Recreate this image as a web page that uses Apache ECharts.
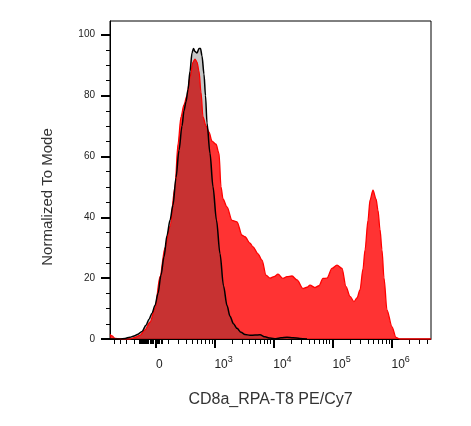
<!DOCTYPE html>
<html><head><meta charset="utf-8">
<script src="https://cdn.jsdelivr.net/npm/echarts@6/dist/echarts.min.js"></script>
<style>html,body{margin:0;padding:0;background:#fff}#c{width:471px;height:426px}</style>
</head><body><div id="c"></div>
<script>
// Histogram bins: position on the biexponential display scale (0 = zero fluorescence)
const redChannel = [-46,-44,-41,-36,-26,-21,-16,-11,-6,-1,4,9,14,19,22,25,28,31,34,37,39,41,43,45,47,50,53,56,60,63,65,67,71,76,81,86,89,94,97,102,106,110,114,118,122,127,131,136,141,147,151,154,159,163,167,171,176,181,186,190,194,198,201,204,207,209,212,214,217,220,222,224,226,228,231,236,240,244,275];
const redPct = [1.5,1,0.2,0,0,0.5,1.2,3,5.5,10,20.5,30,37,50,64,73,77,80,86,91,92,91,88,81,73,70,68,65,64,61,50,46,43.4,39,38.5,34.1,33.6,31.5,30.3,28,25.9,21,20,20.5,21.3,19.9,20.5,20.7,19.4,16.6,17,17.7,16.9,17.5,19.9,20,23.2,24.3,23.2,17.2,14,12.3,13.5,16.1,23,29.2,39,45.6,48.9,46,42.3,36,29.2,20,9.5,4,0.5,0,0];
const ctrlChannel = [-46,-36,-31,-26,-22,-18,-14,-10,-7,-4,-1,2,5,8,11,14,17,20,23,26,28,30,32,34,36,37.5,39,41,43,44.5,46,48,49.5,51,54,57,60.5,64,67.5,71,74,77.5,81,85,89,94,99,104,109,114,120,125,131,137,144,151];
const ctrlPct = [0,0,0.2,0.6,1,1.6,2.5,4.5,6.5,8.5,11,15,21,27,34,39,44,53,62,70,75,78,82,88,94,95.5,94.5,94,95.5,95.5,93,87,80,71,61,50,39,28,17.5,11,7.5,5,3.5,2.2,1.5,1.2,1.3,1.4,0.7,0.3,0.1,0.4,0.6,0.4,0.2,0];

// Axis ticks (fluorescence values)
const majorTickValues = [0, 1e3, 1e4, 1e5, 1e6];
const majorTickBase = ['0', '10', '10', '10', '10'];
const majorTickExp = ['', '3', '4', '5', '6'];
const minorTickValues = [-500,-400,-300,-200,-150,-140,-130,-120,-110,-100,-90,-80,-70,-60,-50,-40,-30,-20,-10,10,20,30,40,50,
  100,200,300,400,500,600,700,800,900,
  2000,3000,4000,5000,6000,7000,8000,9000,
  20000,30000,40000,50000,60000,70000,80000,90000,
  200000,300000,400000,500000,600000,700000,800000,900000,
  2000000,3000000,4000000];
const yMajorTicks = [0,20,40,60,80,100];
const yMinorTicks = [5,10,15,25,30,35,45,50,55,65,70,75,85,90,95];

const xTitle = 'CD8a_RPA-T8 PE/Cy7';
const yTitle = 'Normalized To Mode';

// biexponential (arcsinh) display transform
function biex(v) { return 25.68 * Math.asinh(v / 208); }

const xMin = -46, xMax = 275, yMin = 0, yMax = 104.5;
const FONT = 'Liberation Sans, Arial, sans-serif';

const redData = redChannel.map((c, i) => [c, redPct[i]]);
const ctrlData = ctrlChannel.map((c, i) => [c, ctrlPct[i]]);
const majorPos = majorTickValues.map(biex);
const minorPos = minorTickValues.map(biex);

function xLabel(val) {
  let idx = 0, best = Infinity;
  majorPos.forEach((p, i) => { const d = Math.abs(p - val); if (d < best) { best = d; idx = i; } });
  return majorTickExp[idx] ? '{b|' + majorTickBase[idx] + '}{s|' + majorTickExp[idx] + '}' : '{b|' + majorTickBase[idx] + '}';
}

const chart = echarts.init(document.getElementById('c'), null, { renderer: 'canvas' });
const smooth = 0.3;
chart.setOption({
  animation: false,
  backgroundColor: '#fff',
  grid: { left: 110, right: 40, top: 21, bottom: 87, show: true, borderColor: '#000', borderWidth: 1, containLabel: false },
  xAxis: [
    {
      type: 'value', min: xMin, max: xMax, position: 'bottom',
      name: xTitle, nameLocation: 'middle', nameGap: 53,
      nameTextStyle: { fontFamily: FONT, fontSize: 16, color: '#333' },
      axisLine: { show: true, onZero: false, lineStyle: { color: '#000', width: 1 } },
      axisTick: { show: true, customValues: majorPos, length: 9, lineStyle: { color: '#000', width: 2 } },
      axisLabel: {
        show: true, customValues: majorPos, formatter: xLabel, align: 'left', margin: 16,
        rich: {
          b: { fontFamily: FONT, fontSize: 12, color: '#222', lineHeight: 16, verticalAlign: 'bottom' },
          s: { fontFamily: FONT, fontSize: 9, color: '#222', lineHeight: 16, verticalAlign: 'top' }
        }
      },
      splitLine: { show: false }
    },
    {
      type: 'value', min: xMin, max: xMax, position: 'bottom',
      axisLine: { show: false, onZero: false },
      axisTick: { show: true, customValues: minorPos, length: 5, lineStyle: { color: '#000', width: 1 } },
      axisLabel: { show: false },
      splitLine: { show: false }
    }
  ],
  yAxis: [
    {
      type: 'value', min: yMin, max: yMax, position: 'left',
      name: yTitle, nameLocation: 'middle', nameGap: 55, nameRotate: 90,
      nameTextStyle: { fontFamily: FONT, fontSize: 15, color: '#333', padding: [0, 34, 0, 0] },
      axisLine: { show: true, onZero: false, lineStyle: { color: '#000', width: 1 } },
      axisTick: { show: true, customValues: yMajorTicks, length: 9, lineStyle: { color: '#000', width: 2 } },
      axisLabel: { show: true, customValues: yMajorTicks, margin: 15, fontFamily: FONT, fontSize: 10, color: '#222' },
      splitLine: { show: false }
    },
    {
      type: 'value', min: yMin, max: yMax, position: 'left',
      axisLine: { show: false, onZero: false },
      axisTick: { show: true, customValues: yMinorTicks, length: 4, lineStyle: { color: '#000', width: 1 } },
      axisLabel: { show: false },
      splitLine: { show: false }
    }
  ],
  series: [
    { type: 'line', name: 'sampleFill', data: redData, showSymbol: false, smooth: smooth, smoothMonotone: 'x', z: 1,
      lineStyle: { width: 0 }, areaStyle: { color: 'rgba(255,0,0,0.8)', opacity: 1, origin: 'start' } },
    { type: 'line', name: 'controlFill', data: ctrlData, showSymbol: false, smooth: smooth, smoothMonotone: 'x', z: 2,
      lineStyle: { width: 0 }, areaStyle: { color: 'rgba(47,47,47,0.27)', opacity: 1, origin: 'start' } },
    { type: 'line', name: 'sampleLine', data: redData, showSymbol: false, smooth: smooth, smoothMonotone: 'x', z: 3,
      lineStyle: { width: 1.3, color: '#ff0000' } },
    { type: 'line', name: 'controlLine', data: ctrlData, showSymbol: false, smooth: smooth, smoothMonotone: 'x', z: 4,
      lineStyle: { width: 1.5, color: '#000' } }
  ]
});
</script>
</body></html>
